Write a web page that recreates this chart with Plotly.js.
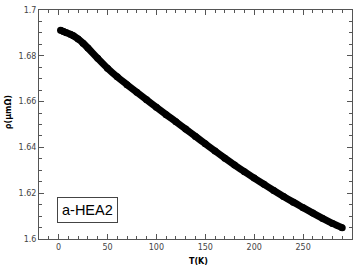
<!DOCTYPE html>
<html><head><meta charset="utf-8">
<script src="https://cdn.plot.ly/plotly-3.0.1.min.js"></script>
<style>html,body{margin:0;padding:0;background:#fff}#c{width:359px;height:266px}</style>
</head><body><div id="c"></div>
<script>
const temperature = [2, 5, 8, 12, 15, 20, 25, 30, 40, 50, 60, 70, 80, 90, 100, 110, 120, 130, 140, 150, 160, 170, 180, 190, 200, 210, 220, 230, 240, 250, 260, 270, 280, 290];
const resistivity = [1.6912, 1.6906, 1.6901, 1.6894, 1.6888, 1.6873, 1.6855, 1.6834, 1.6789, 1.6746, 1.6708, 1.6674, 1.6641, 1.6608, 1.6575, 1.6543, 1.6512, 1.6480, 1.6448, 1.6416, 1.6384, 1.6353, 1.6323, 1.6294, 1.6266, 1.6239, 1.6212, 1.6186, 1.6161, 1.6137, 1.6113, 1.6090, 1.6068, 1.6049];
const sampleLabel = 'a-HEA2';
const xTitle = 'T(K)';
const yTitle = 'ρ(μmΩ)';

const tickFont = {family: 'DejaVu Sans', size: 8, color: '#444'};
const axisCommon = {
  showgrid: false, zeroline: false, showline: true, linecolor: '#555', linewidth: 1,
  mirror: 'allticks', ticks: 'inside', ticklen: 5, tickcolor: '#555', tickwidth: 1,
  tickfont: tickFont
};
const layout = {
  width: 359, height: 266,
  margin: {l: 39, r: 7, t: 10, b: 27},
  paper_bgcolor: '#fff', plot_bgcolor: '#fff',
  showlegend: false,
  xaxis: Object.assign({}, axisCommon, {
    range: [-20, 300], tick0: 0, dtick: 50,
    minor: {dtick: 10, ticks: 'inside', ticklen: 3, tickcolor: '#555'}
  }),
  yaxis: Object.assign({}, axisCommon, {
    range: [1.6, 1.7], tick0: 1.6, dtick: 0.02,
    minor: {dtick: 0.005, ticks: 'inside', ticklen: 3, tickcolor: '#555'}
  }),
  annotations: [
    {text: sampleLabel, xref: 'paper', yref: 'paper', x: 0.058, y: 0.068, xanchor: 'left', yanchor: 'bottom',
     showarrow: false, font: {family: 'Liberation Sans', size: 14.5, color: '#000'},
     bordercolor: '#444', borderwidth: 1, borderpad: 4, bgcolor: '#fff'},
    {text: '<b>' + xTitle + '</b>', xref: 'paper', yref: 'paper', x: 0.51, y: -0.098, xanchor: 'center', yanchor: 'middle',
     showarrow: false, font: {family: 'DejaVu Sans', size: 8, color: '#000'}},
    {text: '<b>' + yTitle + '</b>', xref: 'paper', yref: 'paper', x: -0.095, y: 0.555, xanchor: 'center', yanchor: 'middle',
     textangle: -90, showarrow: false, font: {family: 'DejaVu Sans', size: 8, color: '#000'}}
  ]
};
const data = [{
  x: temperature, y: resistivity, type: 'scatter', mode: 'lines+markers',
  line: {color: '#000', width: 7, shape: 'spline'},
  marker: {color: '#000', size: 7}
}];
Plotly.newPlot('c', data, layout, {staticPlot: true});
</script></body></html>
